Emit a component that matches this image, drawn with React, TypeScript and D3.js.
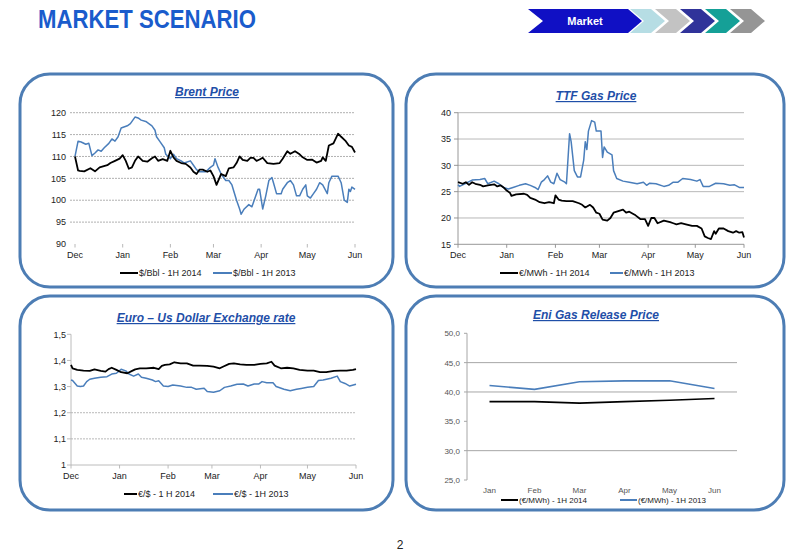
import React from 'react';
import * as d3 from 'd3';

// ---------------- DATA ----------------
const monthLabels = ['Dec', 'Jan', 'Feb', 'Mar', 'Apr', 'May', 'Jun'];
const monthDays = [0, 31, 62, 90, 121, 151, 182];

// [day since 1 Dec, value]
const brent2014: [number, number][] = [
  [0, 110], [2, 106.8], [3, 106.7], [6, 106.6], [10, 107.3], [13, 106.6], [16, 107.5], [21, 108], [23, 108.5],
  [26, 109], [29, 109.5], [31, 110.3], [33, 109], [35, 107.2], [37, 107.5], [39, 109], [41, 110], [44, 109],
  [47, 108.8], [50, 109.6], [52, 110], [54, 109], [57, 109.4], [60, 109], [62, 111.3], [64, 109.8], [66, 109],
  [69, 108.5], [72, 108.3], [75, 107.5], [77, 106.5], [79, 106], [81, 107], [83, 107], [86, 106.5], [88, 106.8],
  [90, 105.5], [92, 103.5], [95, 106], [98, 105.5], [100, 107.3], [103, 107.5], [105, 108.5], [107, 110],
  [109, 109.2], [112, 109], [114, 109.7], [116, 109.7], [118, 109], [120, 109.3], [122, 109.7], [125, 108.5],
  [129, 108.3], [133, 108.5], [135, 109.5], [138, 111.2], [140, 110.6], [143, 111.2], [146, 110.5], [148, 109.8],
  [151, 109.2], [154, 109.3], [157, 108.6], [160, 109], [161, 109.8], [163, 109], [165, 112.5], [168, 113],
  [171, 115.2], [173, 114.5], [176, 113.5], [178, 112.5], [180, 112.2], [182, 110.9],
];
const brent2013: [number, number][] = [
  [0, 110], [2, 113.5], [4, 113.3], [7, 112.8], [9, 113], [11, 110.2], [13, 110.8], [15, 111.5], [17, 111.2],
  [19, 112], [22, 113], [24, 114], [26, 113.5], [28, 114.5], [30, 116.5], [34, 117], [36, 117.5], [39, 119],
  [41, 118.8], [43, 118.3], [46, 118], [50, 117], [52, 116], [53, 114.5], [55, 113.5], [58, 112], [59, 110.5],
  [62, 109.5], [64, 110.5], [66, 109.5], [69, 109], [71, 108.5], [75, 109], [77, 108], [79, 107], [81, 106.5],
  [85, 106.5], [88, 107.5], [90, 108], [91, 109.5], [93, 107.5], [95, 106], [98, 104.5], [100, 104.5],
  [102, 103.5], [105, 100], [107, 98], [108, 96.8], [110, 98], [113, 99], [115, 98.5], [117, 100.5], [119, 102.5],
  [120, 102.5], [122, 98], [124, 101], [126, 104.5], [128, 105.2], [129, 104], [131, 101.5], [134, 101.5],
  [135, 102.5], [138, 104], [140, 104.5], [142, 103.5], [144, 101], [146, 101], [148, 102.5], [150, 103.5],
  [151, 101], [153, 100.5], [155, 101.5], [157, 102.5], [159, 104], [161, 103.5], [164, 101.5], [165, 104],
  [167, 105.5], [171, 105.5], [173, 104], [175, 100], [177, 99.5], [178, 102.5], [179, 102], [180, 103], [182, 102.5],
];

const ttf2014: [number, number][] = [
  [0, 26.8], [3, 26.5], [5, 26.8], [7, 26.3], [9, 26.8], [11, 26.5], [14, 26.3], [16, 26.0], [19, 26.2],
  [23, 26.4], [25, 26.0], [27, 26.2], [29, 25.8], [31, 25.2], [33, 24.8], [34, 24.2], [37, 24.5], [42, 24.6],
  [44, 24.4], [46, 23.8], [49, 23.5], [52, 23.0], [55, 22.8], [58, 23.0], [61, 22.8], [62, 24.3], [64, 23.5],
  [66, 23.3], [69, 23.2], [73, 23.2], [77, 22.8], [79, 22.5], [81, 22.0], [84, 22.5], [86, 22.0], [88, 21.0],
  [90, 20.8], [92, 19.7], [95, 19.5], [97, 20.0], [99, 21.0], [102, 21.3], [105, 21.6], [107, 21.0], [109, 21.2],
  [113, 20.5], [116, 19.8], [119, 19.8], [121, 18.5], [123, 20.0], [125, 20.0], [127, 19.0], [131, 19.5],
  [135, 19.2], [137, 19.0], [139, 18.8], [142, 19.0], [145, 18.8], [149, 18.5], [152, 18.5], [155, 18.0],
  [157, 16.5], [159, 16.2], [161, 16.0], [163, 17.5], [164, 17.0], [166, 18.0], [169, 18.0], [172, 17.5],
  [175, 17.2], [177, 17.5], [179, 17.2], [181, 17.3], [182, 16.3],
];
const ttf2013: [number, number][] = [
  [0, 26.3], [1, 26.0], [5, 26.6], [9, 27.2], [14, 27.3], [17, 27.5], [19, 26.5], [23, 27.0], [26, 26.5],
  [29, 25.8], [32, 25.5], [35, 25.8], [39, 26.2], [43, 26.5], [46, 26.2], [49, 25.8], [51, 25.4], [53, 26.8],
  [55, 27.3], [57, 28.0], [59, 26.8], [61, 26.5], [63, 28.5], [65, 27.3], [68, 26.8], [69, 26.5], [71, 36.0],
  [72, 34.5], [74, 29.0], [76, 27.8], [78, 27.8], [80, 31.0], [81, 34.5], [82, 33.0], [83, 36.5], [85, 38.5],
  [87, 38.2], [88, 36.5], [91, 36.5], [92, 31.5], [93, 33.5], [95, 32.5], [98, 32.0], [99, 29.0], [101, 27.5],
  [105, 27.0], [109, 26.8], [114, 26.5], [118, 26.8], [120, 26.2], [122, 26.6], [126, 26.5], [131, 26.0],
  [134, 26.2], [137, 26.8], [140, 26.8], [143, 27.5], [148, 27.3], [152, 27.0], [154, 27.3], [156, 26.0],
  [160, 26.0], [164, 26.6], [169, 26.5], [173, 26.2], [176, 26.3], [179, 25.8], [182, 25.8],
];

const eur2014: [number, number][] = [
  [0, 1.383], [1, 1.370], [4, 1.364], [8, 1.361], [12, 1.360], [15, 1.366], [19, 1.360], [22, 1.357],
  [24, 1.367], [26, 1.372], [29, 1.364], [32, 1.355], [36, 1.351], [39, 1.360], [41, 1.366], [44, 1.370],
  [48, 1.370], [53, 1.372], [56, 1.367], [58, 1.379], [60, 1.383], [63, 1.385], [66, 1.393], [70, 1.389],
  [74, 1.389], [78, 1.380], [82, 1.380], [87, 1.379], [91, 1.376], [95, 1.370], [97, 1.376], [101, 1.387],
  [104, 1.389], [108, 1.385], [112, 1.383], [117, 1.383], [121, 1.387], [125, 1.389], [128, 1.395],
  [130, 1.380], [134, 1.370], [138, 1.372], [142, 1.370], [146, 1.364], [151, 1.361], [155, 1.361],
  [159, 1.355], [163, 1.355], [168, 1.360], [172, 1.361], [176, 1.361], [180, 1.364], [182, 1.367],
];
const eur2013: [number, number][] = [
  [0, 1.325], [1, 1.323], [4, 1.302], [6, 1.300], [8, 1.302], [10, 1.319], [12, 1.328], [15, 1.332],
  [19, 1.336], [23, 1.338], [26, 1.348], [29, 1.351], [32, 1.366], [35, 1.360], [37, 1.348], [40, 1.340],
  [43, 1.348], [45, 1.336], [48, 1.332], [52, 1.325], [54, 1.319], [56, 1.322], [59, 1.302], [62, 1.300],
  [65, 1.306], [70, 1.302], [74, 1.297], [77, 1.297], [80, 1.290], [85, 1.294], [87, 1.281], [91, 1.278],
  [95, 1.284], [98, 1.297], [102, 1.302], [106, 1.309], [110, 1.310], [113, 1.302], [117, 1.310],
  [120, 1.310], [122, 1.319], [125, 1.315], [129, 1.315], [131, 1.300], [136, 1.290], [140, 1.284],
  [144, 1.290], [147, 1.293], [151, 1.297], [155, 1.300], [158, 1.323], [161, 1.325], [166, 1.332],
  [170, 1.340], [172, 1.319], [175, 1.312], [178, 1.302], [182, 1.309],
];

const eniMonths = ['Jan', 'Feb', 'Mar', 'Apr', 'May', 'Jun'];
const eni2014 = [38.35, 38.35, 38.1, 38.35, 38.6, 38.9];
const eni2013 = [41.1, 40.45, 41.75, 41.9, 41.9, 40.6];

const brentTicks = [90, 95, 100, 105, 110, 115, 120];
const ttfTicks = [15, 20, 25, 30, 35, 40];
const eurTicks = [1, 1.1, 1.2, 1.3, 1.4, 1.5];
const eniTicks = [25, 30, 35, 40, 45, 50];

// ---------------- STYLE ----------------
const FONT = '"Liberation Sans", Arial, sans-serif';
const BLACK = '#000000';
const BLUE = '#4a7ebb';
const PANEL = '#4d7db4';
const TITLE = '#1f4fa8';

type Rect = { x0: number; x1: number; y0: number; y1: number };

function Panel({ x, y, w, h }: { x: number; y: number; w: number; h: number }) {
  return <rect x={x} y={y} width={w} height={h} rx={30} ry={30} fill="#fff" stroke={PANEL} strokeWidth={3} />;
}

function ChartTitle({ x, y, text }: { x: number; y: number; text: string }) {
  return (
    <text x={x} y={y} textAnchor="middle" fontFamily={FONT} fontSize={12} fontWeight="bold" fontStyle="italic"
      fill={TITLE} style={{ textDecoration: 'underline' }}>{text}</text>
  );
}

type LegendItem = { x1: number; x2: number; label: string; color: string };
function Legend({ y, items, size = 9 }: { y: number; items: LegendItem[]; size?: number }) {
  return (
    <g>
      {items.map((it, i) => (
        <g key={i}>
          <line x1={it.x1} x2={it.x2} y1={y} y2={y} stroke={it.color} strokeWidth={2} />
          <text x={it.x2 + 1} y={y + 3.2} fontFamily={FONT} fontSize={size} fill="#222">{it.label}</text>
        </g>
      ))}
    </g>
  );
}

type TimeChartProps = {
  plot: Rect;
  yDomain: [number, number];
  yTicks: number[];
  gridTicks: number[];
  fmt: (v: number) => string;
  labelX: number;
  series: { data: [number, number][]; color: string; width: number }[];
  yAxisLine: boolean;
  xAxisLine: boolean;
  axisColor: string;
  gridColor: string;
  gridDash?: string;
  labelY: number;
  gridLeftExt: number;
};

function TimeChart(p: TimeChartProps) {
  const x = d3.scaleLinear().domain([0, 182]).range([p.plot.x0, p.plot.x1]);
  const y = d3.scaleLinear().domain(p.yDomain).range([p.plot.y1, p.plot.y0]);
  const line = d3.line<[number, number]>().x((d) => x(d[0])).y((d) => y(d[1]));
  return (
    <g>
      {p.gridTicks.map((t) => (
        <line key={'g' + t} x1={p.plot.x0 - p.gridLeftExt} x2={p.plot.x1} y1={y(t)} y2={y(t)}
          stroke={p.gridColor} strokeWidth={0.9} strokeDasharray={p.gridDash} />
      ))}
      {p.yAxisLine && (
        <line x1={p.plot.x0} x2={p.plot.x0} y1={p.plot.y0} y2={p.plot.y1} stroke={p.axisColor} strokeWidth={0.9} />
      )}
      {p.yAxisLine && p.yTicks.map((t) => (
        <line key={'yt' + t} x1={p.plot.x0 - 4} x2={p.plot.x0} y1={y(t)} y2={y(t)} stroke={p.axisColor} strokeWidth={0.9} />
      ))}
      {p.xAxisLine && (
        <line x1={p.plot.x0} x2={p.plot.x1} y1={p.plot.y1} y2={p.plot.y1} stroke={p.axisColor} strokeWidth={0.9} />
      )}
      {monthDays.map((d) => (
        <line key={'xt' + d} x1={x(d)} x2={x(d)} y1={p.plot.y1} y2={p.plot.y1 + 3.5} stroke={p.axisColor} strokeWidth={0.9} />
      ))}
      {p.yTicks.map((t) => (
        <text key={'yl' + t} x={p.labelX} y={y(t) + 3.2} textAnchor="end" fontFamily={FONT} fontSize={9} fill="#222">
          {p.fmt(t)}
        </text>
      ))}
      {monthDays.map((d, i) => (
        <text key={'xl' + d} x={x(d)} y={p.labelY} textAnchor="middle" fontFamily={FONT} fontSize={9} fill="#222">
          {monthLabels[i]}
        </text>
      ))}
      {p.series.map((s, i) => (
        <path key={'s' + i} d={line(s.data) || ''} fill="none" stroke={s.color} strokeWidth={s.width}
          strokeLinejoin="round" />
      ))}
    </g>
  );
}

function EniChart() {
  const plot: Rect = { x0: 467, x1: 737, y0: 333.3, y1: 480 };
  const x = d3.scaleBand<string>().domain(eniMonths).range([plot.x0, plot.x1]);
  const y = d3.scaleLinear().domain([25, 50]).range([plot.y1, plot.y0]);
  const cx = (m: string) => (x(m) || 0) + x.bandwidth() / 2;
  const line = d3.line<number>().x((_, i) => cx(eniMonths[i])).y((d) => y(d));
  const grid = [30, 40, 45];
  return (
    <g>
      {grid.map((t) => (
        <line key={t} x1={plot.x0} x2={plot.x1} y1={y(t)} y2={y(t)} stroke="#a6a6a6" strokeWidth={1} />
      ))}
      <line x1={plot.x0} x2={plot.x0} y1={plot.y0} y2={plot.y1} stroke="#a6a6a6" strokeWidth={1} />
      {eniTicks.map((t) => (
        <g key={'t' + t}>
          <line x1={plot.x0 - 3} x2={plot.x0} y1={y(t)} y2={y(t)} stroke="#a6a6a6" strokeWidth={1} />
          <text x={460} y={y(t) + 3} textAnchor="end" fontFamily={FONT} fontSize={8} fill="#555">
            {t.toFixed(1).replace('.', ',')}
          </text>
        </g>
      ))}
      {eniMonths.map((m) => (
        <text key={m} x={cx(m)} y={493} textAnchor="middle" fontFamily={FONT} fontSize={8} fill="#555">{m}</text>
      ))}
      <path d={line(eni2013) || ''} fill="none" stroke={BLUE} strokeWidth={1.6} />
      <path d={line(eni2014) || ''} fill="none" stroke={BLACK} strokeWidth={1.6} />
    </g>
  );
}

function Chevron({ L, color }: { L: number; color: string }) {
  const pts = [[L, 9], [L + 21, 9], [L + 35, 21], [L + 21, 33], [L, 33], [L + 14, 21]];
  return <polygon points={pts.map((p) => p.join(',')).join(' ')} fill={color} />;
}

export default function App() {
  const intFmt = (v: number) => String(v);
  const eurFmt = (v: number) => (v === 1 ? '1' : v.toFixed(1).replace('.', ','));
  return (
    <svg width={800} height={554} viewBox="0 0 800 554" style={{ position: 'absolute', left: 0, top: 0, background: '#fff' }}>
      <rect x={0} y={0} width={800} height={554} fill="#fff" />
      {/* Header */}
      <text x={38} y={28} fontFamily={FONT} fontSize={25} fontWeight="bold" fill="#1a5ccc" textLength={218}
        lengthAdjust="spacingAndGlyphs">MARKET SCENARIO</text>
      <polygon points="528,9 628,9 642,21 628,33 528,33 543,21" fill="#1010c4" />
      <Chevron L={630} color="#b6dde4" />
      <Chevron L={655} color="#c3c3c3" />
      <Chevron L={680} color="#30339a" />
      <Chevron L={705} color="#15a097" />
      <Chevron L={730} color="#959595" />
      <text x={585} y={25} textAnchor="middle" fontFamily={FONT} fontSize={11} fontWeight="bold" fill="#fff">Market</text>

      {/* Panels */}
      <Panel x={20} y={74} w={373} h={213} />
      <Panel x={406} y={74} w={378} h={213} />
      <Panel x={20} y={296} w={373} h={214} />
      <Panel x={406} y={296} w={378} h={214} />

      {/* Brent */}
      <ChartTitle x={207} y={96} text="Brent Price" />
      <TimeChart
        plot={{ x0: 75, x1: 355, y0: 112.7, y1: 244 }}
        yDomain={[90, 120]} yTicks={brentTicks} gridTicks={[95, 100, 105, 110, 115, 120]} fmt={intFmt}
        labelX={66} labelY={258}
        series={[{ data: brent2013, color: BLUE, width: 1.5 }, { data: brent2014, color: BLACK, width: 1.8 }]}
        yAxisLine={false} xAxisLine={false} axisColor="#b0b0b0" gridColor="#a8a8a8" gridDash="2,1" gridLeftExt={5}
      />
      <Legend y={273} items={[
        { x1: 120, x2: 138, label: '$/Bbl - 1H 2014', color: BLACK },
        { x1: 213, x2: 232, label: '$/Bbl - 1H 2013', color: BLUE },
      ]} />

      {/* TTF */}
      <ChartTitle x={596} y={100} text="TTF Gas Price" />
      <TimeChart
        plot={{ x0: 458, x1: 744, y0: 112.7, y1: 244.3 }}
        yDomain={[15, 40]} yTicks={ttfTicks} gridTicks={[20, 25, 30, 35, 40]} fmt={intFmt}
        labelX={451} labelY={258}
        series={[{ data: ttf2013, color: BLUE, width: 1.5 }, { data: ttf2014, color: BLACK, width: 1.8 }]}
        yAxisLine={true} xAxisLine={true} axisColor="#8c8c8c" gridColor="#b0b0b0" gridLeftExt={0}
      />
      <Legend y={273} items={[
        { x1: 500, x2: 518, label: '€/MWh - 1H 2014', color: BLACK },
        { x1: 610, x2: 623, label: '€/MWh - 1H 2013', color: BLUE },
      ]} />

      {/* Euro / USD */}
      <ChartTitle x={206} y={322} text="Euro – Us Dollar Exchange rate" />
      <TimeChart
        plot={{ x0: 71, x1: 356, y0: 334.3, y1: 465 }}
        yDomain={[1, 1.5]} yTicks={eurTicks} gridTicks={[1.1, 1.2]} fmt={eurFmt}
        labelX={66} labelY={479}
        series={[{ data: eur2013, color: BLUE, width: 1.5 }, { data: eur2014, color: BLACK, width: 1.8 }]}
        yAxisLine={true} xAxisLine={true} axisColor="#b4b4b4" gridColor="#b0b0b0" gridDash="2,1" gridLeftExt={0}
      />
      <Legend y={494} items={[
        { x1: 124, x2: 137, label: '€/$ - 1 H 2014', color: BLACK },
        { x1: 213, x2: 233, label: '€/$  - 1H 2013', color: BLUE },
      ]} />

      {/* Eni Gas Release */}
      <ChartTitle x={596} y={319} text="Eni Gas Release Price" />
      <EniChart />
      <Legend y={500} size={8} items={[
        { x1: 501, x2: 518, label: '(€/MWh) - 1H 2014', color: BLACK },
        { x1: 620, x2: 637, label: '(€/MWh) - 1H 2013', color: BLUE },
      ]} />

      <text x={400} y={549} textAnchor="middle" fontFamily={FONT} fontSize={12} fill="#222">2</text>
    </svg>
  );
}
